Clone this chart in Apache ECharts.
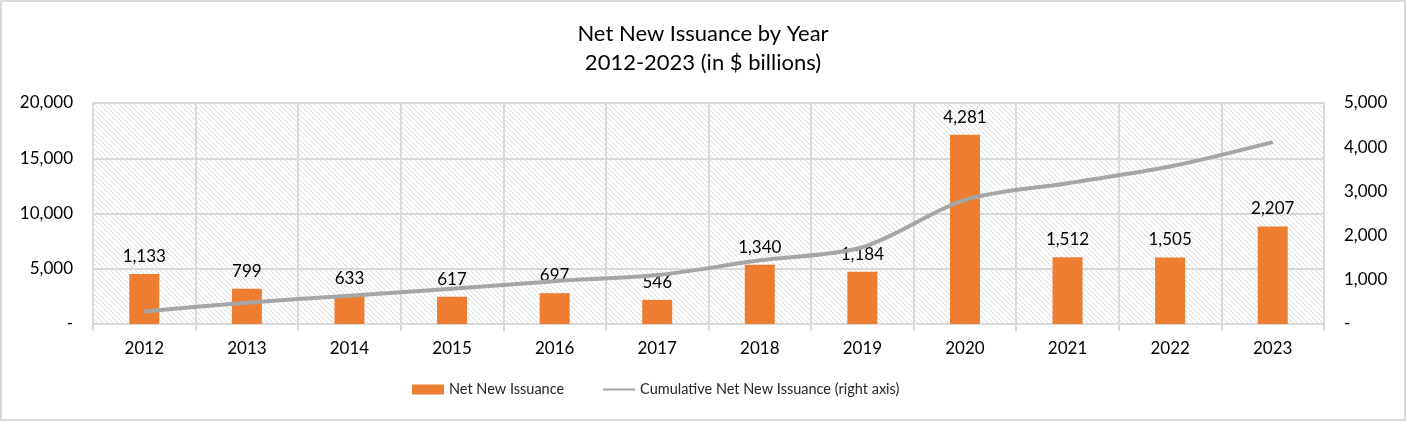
<!DOCTYPE html>
<html>
<head>
<meta charset="utf-8">
<script src="https://cdn.jsdelivr.net/npm/echarts@6/dist/echarts.min.js"></script>
<style>
html,body{margin:0;padding:0;background:#fff;}
#wrap{position:absolute;left:0;top:0;width:1402px;height:417px;border:2px solid #D9D9D9;}
#c{width:1402px;height:417px;}
</style>
</head>
<body>
<div id="wrap"><div id="c"></div></div>
<script>
const years = ['2012','2013','2014','2015','2016','2017','2018','2019','2020','2021','2022','2023'];
const netNewIssuance = [1133, 799, 633, 617, 697, 546, 1340, 1184, 4281, 1512, 1505, 2207];
const cumulativeIssuance = [1133, 1932, 2565, 3182, 3879, 4425, 5765, 6949, 11230, 12742, 14247, 16454];
const leftTicks = [0, 5000, 10000, 15000, 20000];
const rightTicks = [0, 1000, 2000, 3000, 4000, 5000];

function fmt(v){ return v === 0 ? '-' : v.toLocaleString('en-US'); }

const tile = document.createElement('canvas');
tile.width = 5; tile.height = 5;
const tctx = tile.getContext('2d');
tctx.fillStyle = '#ffffff';
tctx.fillRect(0,0,5,5);
tctx.fillStyle = '#DADADA';
for (let i = 0; i < 5; i++) { tctx.fillRect(i, i, 1, 1); }

const FONT = 'Lato';
const chart = echarts.init(document.getElementById('c'));
chart.setOption({
  animation: false,
  backgroundColor: '#ffffff',
  textStyle: { fontFamily: FONT },
  title: {
    text: 'Net New Issuance by Year\n2012-2023 (in $ billions)',
    left: 'center', top: 12,
    textStyle: { fontFamily: FONT, fontSize: 22, fontWeight: 'normal', color: '#000', lineHeight: 29 }
  },
  legend: {
    bottom: 17, left: 405,
    itemWidth: 32, itemHeight: 10, itemGap: 38,
    textStyle: { fontFamily: FONT, fontSize: 14.5, color: '#262626' },
    data: [
      { name: 'Net New Issuance', icon: 'rect' },
      { name: 'Cumulative Net New Issuance (right axis)', itemStyle: { color: 'rgba(0,0,0,0)', borderColor: 'rgba(0,0,0,0)', borderWidth: 0 } }
    ]
  },
  grid: {
    left: 91, right: 80, top: 101, bottom: 95,
    show: true, borderWidth: 0,
    backgroundColor: { image: tile, repeat: 'repeat' }
  },
  xAxis: {
    type: 'category', data: years,
    axisLine: { lineStyle: { color: '#D9D9D9', width: 2 } },
    axisTick: { show: true, alignWithLabel: false, length: 7, lineStyle: { color: '#D9D9D9', width: 2 } },
    splitLine: { show: true, lineStyle: { color: '#D9D9D9', width: 2 } },
    axisLabel: { fontFamily: FONT, fontSize: 17, color: '#000', margin: 16 }
  },
  yAxis: [
    {
      type: 'value', min: 0, max: 20000, interval: 5000,
      axisLine: { show: false }, axisTick: { show: false },
      splitLine: { show: true, lineStyle: { color: '#D9D9D9', width: 2 } },
      axisLabel: { fontFamily: FONT, fontSize: 17, color: '#000', margin: 20, formatter: fmt }
    },
    {
      type: 'value', min: 0, max: 5000, interval: 1000,
      axisLine: { show: false }, axisTick: { show: false },
      splitLine: { show: false },
      axisLabel: { fontFamily: FONT, fontSize: 17, color: '#000', margin: 20, formatter: fmt }
    }
  ],
  series: [
    {
      name: 'Net New Issuance', type: 'bar', yAxisIndex: 1,
      data: netNewIssuance, barWidth: 30,
      itemStyle: { color: '#ED7D31' },
      label: { show: true, position: 'top', distance: 9, fontFamily: FONT, fontSize: 17, color: '#000',
        formatter: p => fmt(p.value) }
    },
    {
      name: 'Cumulative Net New Issuance (right axis)', type: 'line', yAxisIndex: 0,
      data: cumulativeIssuance, smooth: 0.3, symbol: 'none',
      lineStyle: { color: '#A5A5A5', width: 4 }, itemStyle: { color: '#A5A5A5' }, z: 3
    }
  ]
});
</script>
</body>
</html>
